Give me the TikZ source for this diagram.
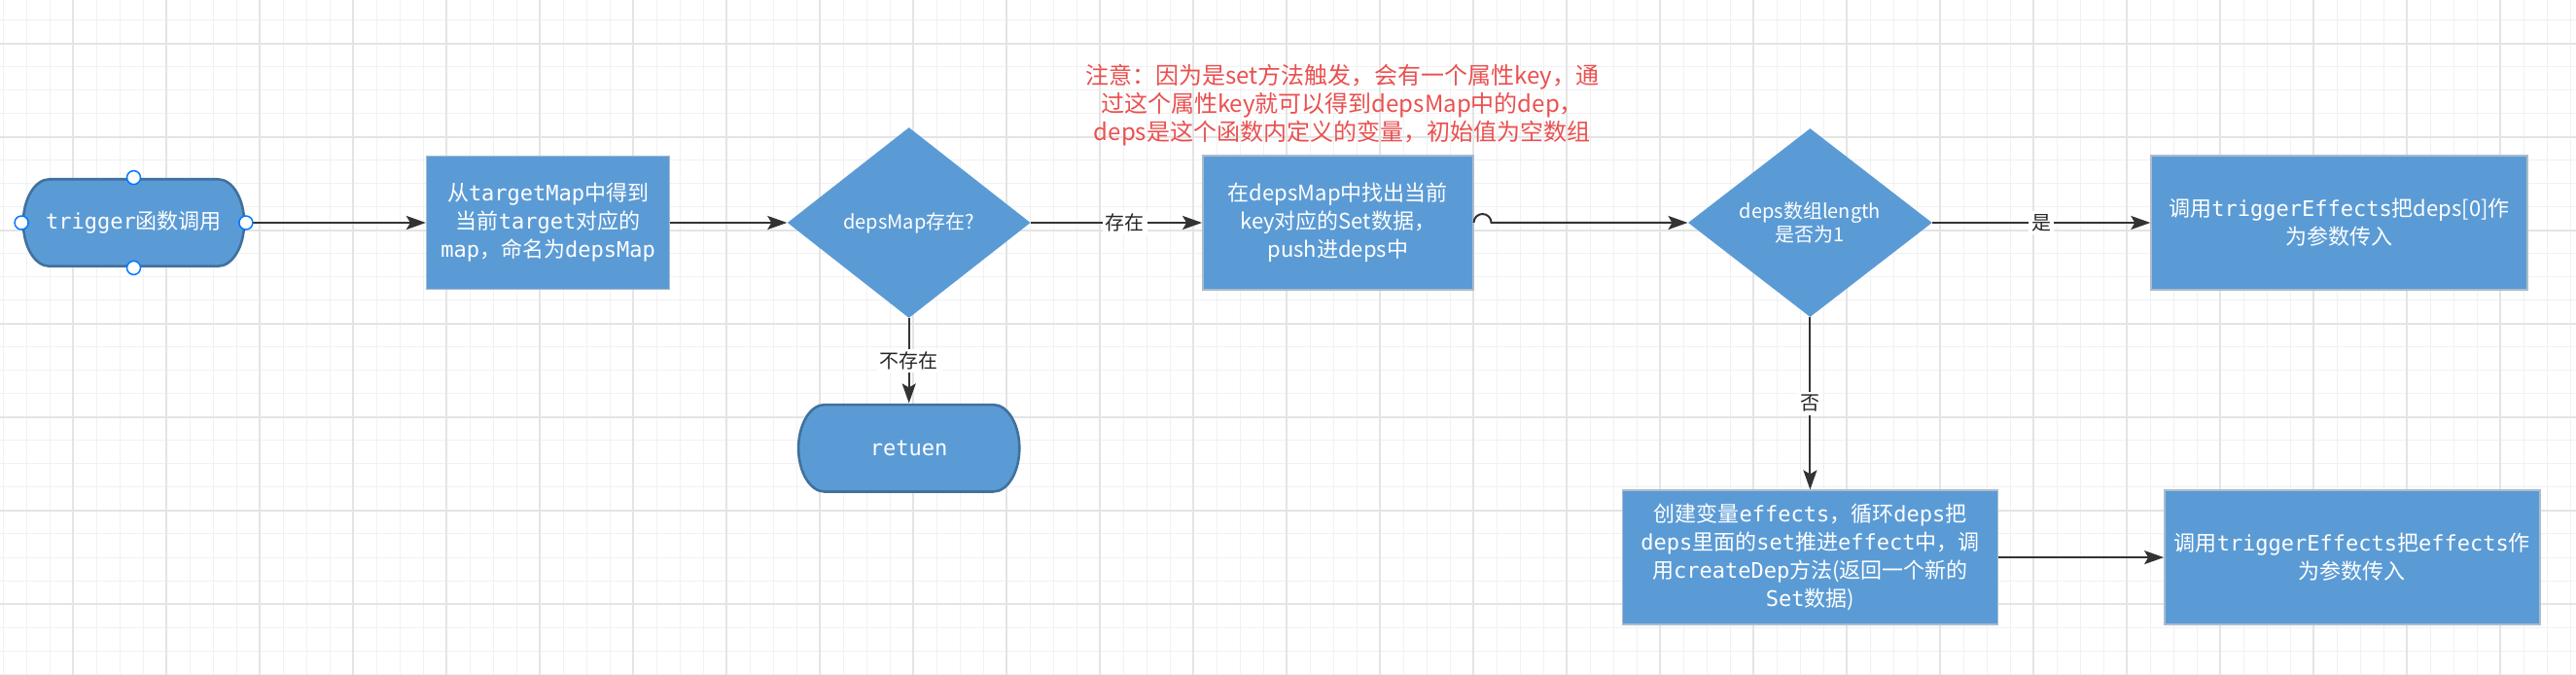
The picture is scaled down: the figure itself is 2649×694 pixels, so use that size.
\documentclass[tikz,border=0pt]{standalone}
\usepackage{fontspec}
\setmainfont{Noto Sans CJK SC}
\setmonofont{DejaVu Sans Mono}
\usetikzlibrary{arrows.meta,positioning,shapes.geometric}

\definecolor{cfill}{RGB}{91,155,213}
\definecolor{cedge}{RGB}{172,188,204}
\definecolor{cterm}{RGB}{65,113,156}
\definecolor{cline}{RGB}{51,51,51}
\definecolor{cnote}{RGB}{234,80,80}
\definecolor{chandle}{RGB}{0,120,255}
\definecolor{cminor}{RGB}{241,241,241}
\definecolor{cmajor}{RGB}{228,228,228}

\begin{document}
\begin{tikzpicture}[
  x=0.5pt, y=-0.5pt,
  >={Stealth[length=10pt, width=7pt, inset=2pt]},
  minorline/.style={draw=cminor, line width=0.5pt},
  majorline/.style={draw=cmajor, line width=0.8pt},
  box/.style={rectangle, fill=cfill, draw=cedge, line width=0.7pt, text=white, align=center, inner sep=2pt, font=\fontsize{11}{14.5}\selectfont},
  decision/.style={diamond, fill=cfill, text=white, align=center, shape aspect=1.3, inner sep=1pt, minimum width=125pt, minimum height=98pt, font=\fontsize{10}{12}\selectfont},
  terminal/.style={rectangle, minimum width=115pt, minimum height=46pt, inner sep=0pt, text=white, font=\fontsize{11}{14}\selectfont,
    path picture={
      \draw[fill=cfill, draw=cterm, line width=1.3pt]
        ([xshift=14.2pt, yshift=-0.65pt]path picture bounding box.north west)
        -- ([xshift=-14.2pt, yshift=-0.65pt]path picture bounding box.north east)
        arc[start angle=90, end angle=-90, x radius=13.5pt, y radius=22.35pt]
        -- ([xshift=14.2pt, yshift=0.65pt]path picture bounding box.south west)
        arc[start angle=270, end angle=90, x radius=13.5pt, y radius=22.35pt]
        -- cycle;
    }},
  handle/.style={circle, draw=chandle, fill=white, line width=0.75pt, minimum size=7pt, inner sep=0pt},
  edge/.style={->, draw=cline, line width=1pt},
  lbl/.style={fill=white, text=black!85, inner sep=1.5pt, font=\fontsize{10}{12}\selectfont},
  note/.style={text=cnote, align=center, font=\fontsize{12}{14.5}\selectfont}
]

% canvas grid
\useasboundingbox (0,0) rectangle (2649,694);
\fill[white] (0,0) rectangle (2649,694);
\foreach \x in {3,27,...,2649} \draw[minorline] (\x,0) -- (\x,694);
\foreach \y in {21,45,...,694} \draw[minorline] (0,\y) -- (2649,\y);
\foreach \x in {75,171,...,2649} \draw[majorline] (\x,0) -- (\x,694);
\foreach \y in {45,141,...,694} \draw[majorline] (0,\y) -- (2649,\y);

% main row
\node[terminal] (trig) at (137.5,229) {\texttt{trigger}函数调用};
\node[box, minimum width=125pt, minimum height=68.5pt, right=92.5pt of trig] (lookup) {从\texttt{targetMap}中得到\\当前\texttt{target}对应的\\\texttt{map}，命名为\texttt{depsMap}};
\node[decision, right=60pt of lookup] (hasmap) {depsMap存在?};
\node[box, minimum width=139pt, minimum height=69pt, right=88pt of hasmap] (collect) {在depsMap中找出当前\\key对应的Set数据，\\push进deps中};
\node[decision, minimum width=125.5pt, minimum height=97pt, right=110pt of collect] (isone) {deps数组length\\是否为1};
\node[box, minimum width=193.5pt, minimum height=69pt, right=112pt of isone] (single) {调用\texttt{triggerEffects}把deps[0]作\\为参数传入};

% lower row
\node[terminal, below=43.5pt of hasmap] (ret) {\texttt{retuen}};
\node[box, minimum width=193pt, minimum height=69pt, below=88.5pt of isone] (build) {创建变量\texttt{effects}，循环\texttt{deps}把\\\texttt{deps}里面的\texttt{set}推进\texttt{effect}中，调\\用\texttt{createDep}方法(返回一个新的\\\texttt{Set}数据)};
\node[box, minimum width=193pt, minimum height=69pt, right=85pt of build] (multi) {调用\texttt{triggerEffects}把\texttt{effects}作\\为参数传入};

\node[note] (tip) at (1380,108) {注意：因为是set方法触发，会有一个属性key，通\\过这个属性key就可以得到depsMap中的dep，\\deps是这个函数内定义的变量，初始值为空数组};

% connectors
\draw[edge, line width=1.4pt] (trig) -- (lookup);
\draw[edge] (lookup) -- (hasmap);
\draw[edge] (hasmap) -- node[lbl, pos=0.55] {存在} (collect);
\draw[edge] (collect.east) arc[start angle=180, end angle=0, radius=4.5pt] -- (isone.west);
\draw[edge] (isone) -- node[lbl] {是} (single);
\draw[edge] (hasmap) -- node[lbl] {不存在} (ret);
\draw[edge] (isone) -- node[lbl] {否} (build);
\draw[edge] (build) -- (multi);

\foreach \side in {north,south,east,west}
  \node[handle] (h-\side) at (trig.\side) {};

\end{tikzpicture}
\end{document}
